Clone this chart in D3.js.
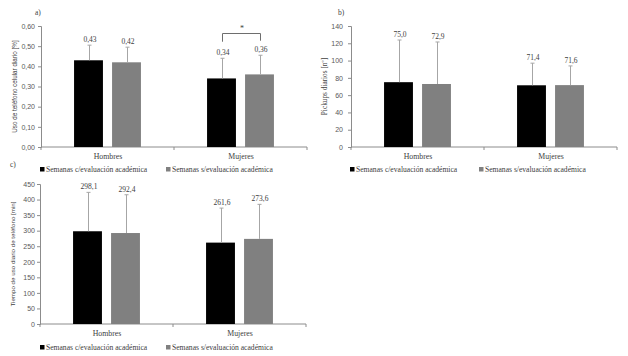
<!DOCTYPE html>
<html>
<head>
<meta charset="utf-8">
<script src="https://cdn.jsdelivr.net/npm/d3@7"></script>
<style>
  html, body { margin: 0; padding: 0; background: #fff; }
  svg { display: block; }
  .serif { font-family: "Liberation Serif", "DejaVu Serif", serif; }
  .sans { font-family: "Liberation Sans", Arial, sans-serif; }
</style>
</head>
<body>
<svg id="chart" width="628" height="356"></svg>
<script>
// ---------- data ----------
const categories = ["Hombres", "Mujeres"];
const seriesNames = ["Semanas c/evaluación académica", "Semanas s/evaluación académica"];
const seriesColors = ["#000000", "#808080"];

// a) Uso de teléfono celular diario [%]
const usoCon = [0.43, 0.34];
const usoSin = [0.42, 0.36];
const usoConSD = [0.075, 0.10];
const usoSinSD = [0.075, 0.095];
const usoTicks = [0, 0.1, 0.2, 0.3, 0.4, 0.5, 0.6];

// b) Pickups diarios [nº]
const pickCon = [75.0, 71.4];
const pickSin = [72.9, 71.6];
const pickConSD = [48.8, 25.6];
const pickSinSD = [48.6, 22.2];
const pickTicks = [0, 20, 40, 60, 80, 100, 120, 140];

// c) Tiempo de uso diario de teléfono [min]
const tiempoCon = [298.1, 261.6];
const tiempoSin = [292.4, 273.6];
const tiempoConSD = [125, 111];
const tiempoSinSD = [123, 111];
const tiempoTicks = [0, 50, 100, 150, 200, 250, 300, 350, 400, 450];

// significance bracket (panel a, Mujeres)
const sigCategory = "Mujeres";
const sigLevel = 0.565;
const sigDrop = [0.522, 0.527];
const sigLabel = "*";

// ---------- drawing ----------
const svg = d3.select("#chart");
const comma = f => (v => f(v).replace(".", ","));

function panel(opt) {
  const g = svg.append("g");
  const x0 = d3.scaleBand().domain(categories).range([opt.left, opt.right]).padding(0);
  const x1 = d3.scaleBand().domain(seriesNames).range([0, x0.bandwidth()])
    .paddingInner(0.24).paddingOuter(0.87);
  const y = d3.scaleLinear().domain([0, opt.ticks[opt.ticks.length - 1]]).range([opt.bottom, opt.top]);

  // y axis
  const yAxis = d3.axisLeft(y).tickValues(opt.ticks).tickSize(3).tickPadding(opt.tickPad)
    .tickFormat(comma(opt.tickFmt));
  const ya = g.append("g").attr("transform", `translate(${opt.left},0)`).call(yAxis);
  ya.select(".domain").attr("stroke", "#8c8c8c");
  ya.selectAll(".tick line").attr("stroke", "#8c8c8c");
  ya.selectAll("text").attr("class", "sans").attr("font-size", 7).attr("fill", "#595959");

  // x axis
  const xa = g.append("g");
  xa.append("line").attr("x1", opt.left).attr("x2", opt.right)
    .attr("y1", opt.bottom).attr("y2", opt.bottom).attr("stroke", "#8c8c8c");
  const bounds = categories.map(c => x0(c)).concat([opt.right]);
  xa.selectAll("line.tk").data(bounds).join("line").attr("class", "tk")
    .attr("x1", d => d).attr("x2", d => d).attr("y1", opt.bottom).attr("y2", opt.bottom + 3)
    .attr("stroke", "#8c8c8c");
  xa.selectAll("text").data(categories).join("text")
    .attr("class", "serif").attr("font-size", 7.8).attr("fill", "#404040")
    .attr("text-anchor", "middle")
    .attr("x", d => Math.round(x0(d) + x0.bandwidth() / 2)).attr("y", opt.bottom + 12)
    .text(d => d);

  // bars
  const rows = [];
  opt.series.forEach((vals, si) => {
    vals.forEach((v, ci) => rows.push({ cat: categories[ci], ser: seriesNames[si], si, v, sd: opt.sds[si][ci] }));
  });
  const bx = d => x0(d.cat) + x1(d.ser);
  g.selectAll("rect.bar").data(rows).join("rect").attr("class", "bar")
    .attr("x", bx).attr("width", x1.bandwidth())
    .attr("y", d => y(d.v)).attr("height", d => y(0) - y(d.v))
    .attr("fill", d => seriesColors[d.si]);

  // error bars
  const cx = d => Math.round(bx(d) + x1.bandwidth() / 2) + 0.5;
  g.selectAll("line.err").data(rows).join("line").attr("class", "err")
    .attr("x1", cx).attr("x2", cx).attr("y1", d => y(d.v)).attr("y2", d => y(d.v + d.sd))
    .attr("stroke", "#a6a6a6").attr("stroke-width", 1);
  g.selectAll("line.cap").data(rows).join("line").attr("class", "cap")
    .attr("x1", d => cx(d) - 2).attr("x2", d => cx(d) + 2)
    .attr("y1", d => y(d.v + d.sd)).attr("y2", d => y(d.v + d.sd))
    .attr("stroke", "#a6a6a6").attr("stroke-width", 1);

  // value labels
  g.selectAll("text.val").data(rows).join("text").attr("class", "val serif")
    .attr("font-size", 7.5).attr("fill", "#404040").attr("text-anchor", "middle")
    .attr("x", d => Math.round(cx(d))).attr("y", d => Math.round(y(d.v + d.sd) - 3))
    .text(d => comma(opt.valFmt)(d.v));

  // y title
  g.append("text").attr("class", opt.titleClass).attr("font-size", opt.titleSize).attr("fill", "#404040")
    .attr("text-anchor", "middle")
    .attr("transform", `translate(${opt.titleX},${(opt.top + opt.bottom) / 2}) rotate(-90)`)
    .text(opt.title);

  // panel letter
  if (opt.letter) {
    g.append("text").attr("class", "serif").attr("font-size", 7.5).attr("fill", "#404040")
      .attr("x", opt.letter[1]).attr("y", opt.letter[2]).text(opt.letter[0]);
  }

  // legend
  const lg = g.append("g");
  seriesNames.forEach((s, i) => {
    const lx = opt.legendX[i];
    lg.append("rect").attr("x", lx).attr("y", opt.legendY - 5).attr("width", 4.5).attr("height", 4.5)
      .attr("fill", seriesColors[i]);
    lg.append("text").attr("class", "serif").attr("font-size", 7.6).attr("fill", "#404040")
      .attr("x", lx + 6).attr("y", opt.legendY).text(s);
  });

  return { g, x0, x1, y };
}

const pa = panel({
  left: 41, right: 307, top: 26, bottom: 147,
  ticks: usoTicks, tickFmt: d3.format(".2f"), valFmt: d3.format(".2f"), tickPad: 3,
  series: [usoCon, usoSin], sds: [usoConSD, usoSinSD],
  title: "Uso de teléfono celular diario [%]", titleClass: "sans", titleSize: 6.3, titleX: 17,
  letter: ["a)", 35, 15], legendX: [40, 166], legendY: 172
});

const pb = panel({
  left: 351, right: 617, top: 26, bottom: 147,
  ticks: pickTicks, tickFmt: d3.format("d"), valFmt: d3.format(".1f"), tickPad: 5,
  series: [pickCon, pickSin], sds: [pickConSD, pickSinSD],
  title: "Pickups diarios [nº]", titleClass: "serif", titleSize: 7.3, titleX: 327,
  letter: ["b)", 338, 15], legendX: [350, 479], legendY: 172
});

const pc = panel({
  left: 40, right: 306, top: 184, bottom: 324,
  ticks: tiempoTicks, tickFmt: d3.format("d"), valFmt: d3.format(".1f"), tickPad: 2,
  series: [tiempoCon, tiempoSin], sds: [tiempoConSD, tiempoSinSD],
  title: "Tiempo de uso diario de teléfono [min]", titleClass: "sans", titleSize: 6.2, titleX: 15,
  letter: ["c)", 10, 167], legendX: [40, 166], legendY: 350
});

// significance bracket in panel a
{
  const { g, x0, x1, y } = pa;
  const xs = seriesNames.map(s => Math.round(x0(sigCategory) + x1(s) + x1.bandwidth() / 2) + 0.5);
  const path = d3.path();
  path.moveTo(xs[0], y(sigDrop[0]));
  path.lineTo(xs[0], Math.round(y(sigLevel)) + 0.5);
  path.lineTo(xs[1], Math.round(y(sigLevel)) + 0.5);
  path.lineTo(xs[1], y(sigDrop[1]));
  g.append("path").attr("d", path.toString()).attr("fill", "none")
    .attr("stroke", "#6e6e6e").attr("stroke-width", 1);
  g.append("text").attr("class", "serif").attr("font-size", 8).attr("fill", "#404040")
    .attr("text-anchor", "middle").attr("x", Math.round((xs[0] + xs[1]) / 2)).attr("y", Math.round(y(sigLevel) - 2))
    .text(sigLabel);
}
</script>
</body>
</html>
